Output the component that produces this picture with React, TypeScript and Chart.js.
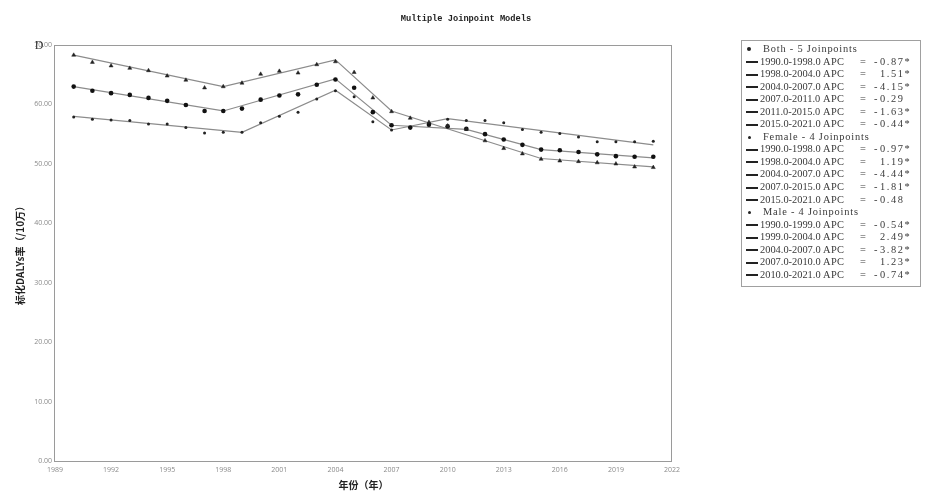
import React, { useEffect, useRef } from "react";
import { Chart, registerables } from "chart.js";

Chart.register(...registerables);

const years = [1990, 1991, 1992, 1993, 1994, 1995, 1996, 1997, 1998, 1999, 2000, 2001, 2002, 2003, 2004, 2005, 2006, 2007, 2008, 2009, 2010, 2011, 2012, 2013, 2014, 2015, 2016, 2017, 2018, 2019, 2020, 2021];

const femaleObs = [68.3, 67.1, 66.5, 66.1, 65.7, 64.8, 64.1, 62.8, 63.0, 63.6, 65.1, 65.6, 65.3, 66.7, 67.2, 65.4, 61.1, 58.8, 57.7, 57.0, 56.4, 55.8, 53.9, 52.6, 51.7, 50.8, 50.5, 50.4, 50.2, 50.0, 49.5, 49.4];
const bothObs = [63.0, 62.3, 61.9, 61.6, 61.1, 60.6, 59.9, 58.9, 58.9, 59.3, 60.8, 61.5, 61.7, 63.3, 64.2, 62.8, 58.7, 56.5, 56.1, 56.6, 56.3, 55.9, 55.0, 54.1, 53.2, 52.4, 52.3, 52.0, 51.6, 51.3, 51.2, 51.2];
const maleObs = [57.9, 57.5, 57.4, 57.3, 56.7, 56.7, 56.1, 55.2, 55.3, 55.3, 56.9, 58.0, 58.7, 60.9, 62.3, 61.3, 57.1, 55.7, 56.1, 56.8, 57.5, 57.3, 57.3, 56.9, 55.8, 55.3, 55.1, 54.5, 53.7, 53.7, 53.7, 53.8];

const bothFitYears = [1990, 1998, 2004, 2007, 2011, 2015, 2021];
const bothFit = [63.0, 58.9, 64.3, 56.5, 55.8, 52.4, 51.0];
const femaleFitYears = [1990, 1998, 2004, 2007, 2015, 2021];
const femaleFit = [68.3, 63.0, 67.5, 58.9, 50.9, 49.5];
const maleFitYears = [1990, 1999, 2004, 2007, 2010, 2021];
const maleFit = [58.0, 55.3, 62.4, 55.7, 57.6, 53.2];

const chartTitle = "Multiple Joinpoint Models";
const yTitle = "标化DALYs率（/10万）";
const xTitle = "年份（年）";

// legend: group headers and their segments
const groupNames = ["Both - 5 Joinpoints", "Female - 4 Joinpoints", "Male - 4 Joinpoints"];
const groupDots = [4, 3, 3];
const bothSegments = ["1990.0-1998.0", "1998.0-2004.0", "2004.0-2007.0", "2007.0-2011.0", "2011.0-2015.0", "2015.0-2021.0"];
const bothApc = ["-0.87*", "1.51*", "-4.15*", "-0.29", "-1.63*", "-0.44*"];
const femaleSegments = ["1990.0-1998.0", "1998.0-2004.0", "2004.0-2007.0", "2007.0-2015.0", "2015.0-2021.0"];
const femaleApc = ["-0.97*", "1.19*", "-4.44*", "-1.81*", "-0.48"];
const maleSegments = ["1990.0-1999.0", "1999.0-2004.0", "2004.0-2007.0", "2007.0-2010.0", "2010.0-2021.0"];
const maleApc = ["-0.54*", "2.49*", "-3.82*", "1.23*", "-0.74*"];

type Row = { head: boolean; text: string; apc?: string; dot?: number };
const legendRows: Row[] = [];
[[bothSegments, bothApc], [femaleSegments, femaleApc], [maleSegments, maleApc]].forEach(([segs, apcs], g) => {
  legendRows.push({ head: true, text: groupNames[g], dot: groupDots[g] });
  (segs as string[]).forEach((s, i) => legendRows.push({ head: false, text: s, apc: (apcs as string[])[i] }));
});

const pts = (xs: number[], ys: number[]) => xs.map((x, i) => ({ x, y: ys[i] }));

const decorPlugin = {
  id: "decor",
  afterDraw(chart: any) {
    const { ctx, chartArea } = chart;
    const { left, right, top, bottom } = chartArea;
    ctx.save();
    ctx.strokeStyle = "#9a9a9a";
    ctx.lineWidth = 1;
    ctx.strokeRect(Math.round(left) - 0.5, Math.round(top) + 0.5, Math.round(right - left), Math.round(bottom - top));
    ctx.fillStyle = "#222";
    ctx.textAlign = "center";
    ctx.textBaseline = "middle";
    ctx.font = "bold 8.7px 'Liberation Mono', monospace";
    ctx.fillText(chartTitle, 466, 19);
    ctx.font = "12px 'Liberation Serif', serif";
    ctx.fillStyle = "#333";
    ctx.fillText("D", 39, 46);
    ctx.fillStyle = "#222";
    ctx.font = "bold 10px 'Noto Sans CJK SC', sans-serif";
    ctx.fillText(xTitle, (left + right) / 2, 485);
    ctx.save();
    ctx.translate(20, (top + bottom) / 2);
    ctx.rotate(-Math.PI / 2);
    ctx.fillText(yTitle, 0, 0);
    ctx.restore();
    ctx.restore();
  },
};

export default function App() {
  const ref = useRef<HTMLCanvasElement | null>(null);
  useEffect(() => {
    if (!ref.current) return;
    const lineStyle = { borderColor: "#8c8c8c", borderWidth: 1.2, pointRadius: 0, showLine: true, fill: false, order: 2 };
    const chart = new Chart(ref.current, {
      type: "scatter",
      data: {
        datasets: [
          { label: "Female fit", data: pts(femaleFitYears, femaleFit), ...lineStyle },
          { label: "Both fit", data: pts(bothFitYears, bothFit), ...lineStyle },
          { label: "Male fit", data: pts(maleFitYears, maleFit), ...lineStyle },
          { label: "Female", data: pts(years, femaleObs), pointStyle: "triangle", pointRadius: 2.3, backgroundColor: "#222", borderColor: "#222", borderWidth: 0.5, showLine: false, order: 1 },
          { label: "Both", data: pts(years, bothObs), pointStyle: "circle", pointRadius: 2.3, backgroundColor: "#111", borderColor: "#111", borderWidth: 0, showLine: false, order: 1 },
          { label: "Male", data: pts(years, maleObs), pointStyle: "circle", pointRadius: 1.5, backgroundColor: "#222", borderColor: "#222", borderWidth: 0, showLine: false, order: 1 },
        ],
      },
      options: {
        responsive: false,
        animation: false,
        devicePixelRatio: 1,
        layout: { padding: { top: 45, right: 253, left: 0, bottom: 0 } },
        plugins: { legend: { display: false }, tooltip: { enabled: false }, title: { display: false } },
        scales: {
          x: {
            type: "linear",
            min: 1989,
            max: 2022,
            grid: { display: false, drawTicks: false },
            border: { display: false },
            ticks: { stepSize: 3, padding: 5, color: "#8a8a8a", font: { family: "'Open Sans', sans-serif", size: 7 }, maxRotation: 0, callback: (v: any) => String(v) },
            afterFit: (s: any) => { s.height = 32; },
          },
          y: {
            min: 0,
            max: 70,
            grid: { display: false, drawTicks: false },
            border: { display: false },
            ticks: { stepSize: 10, padding: 3, color: "#8a8a8a", font: { family: "'Open Sans', sans-serif", size: 7 }, callback: (v: any) => Number(v).toFixed(2) },
            afterFit: (s: any) => { s.width = 55; },
          },
        },
      },
      plugins: [decorPlugin],
    } as any);
    return () => chart.destroy();
  }, []);

  const abs = (left: number, extra: any = {}) => ({ position: "absolute" as const, left, top: 0, whiteSpace: "pre" as const, ...extra });

  return (
    <div style={{ position: "fixed", left: 0, top: 0, width: 925, height: 493, background: "#fff" }}>
      <canvas ref={ref} width={925} height={493} style={{ position: "absolute", left: 0, top: 0 }} />
      <div
        style={{
          position: "absolute",
          left: 741,
          top: 40,
          width: 180,
          height: 247,
          border: "1px solid #a0a0a0",
          paddingTop: 2,
          boxSizing: "border-box",
          fontFamily: "'Liberation Serif', serif",
          fontSize: "10.4px",
          color: "#3a3a3a",
          overflow: "hidden",
        }}
      >
        {legendRows.map((r, i) => (
          <div key={i} style={{ position: "relative", height: 12.56, lineHeight: "12.56px" }}>
            {r.head ? (
              <>
                <span style={{ position: "absolute", left: 7 - (r.dot as number) / 2, top: 6.3 - (r.dot as number) / 2, width: r.dot, height: r.dot, borderRadius: "50%", background: "#222" }} />
                <span style={abs(21, { letterSpacing: "0.8px" })}>{r.text}</span>
              </>
            ) : (
              <>
                <span style={{ position: "absolute", left: 4, top: 5.5, width: 12, height: 2, background: "#222" }} />
                <span style={abs(18)}>{r.text}</span>
                <span style={abs(81, { letterSpacing: "0.4px" })}>APC</span>
                <span style={abs(118)}>=</span>
                {(r.apc as string).startsWith("-") ? (
                  <>
                    <span style={abs(132)}>-</span>
                    <span style={abs(138, { letterSpacing: "1.6px" })}>{(r.apc as string).slice(1)}</span>
                  </>
                ) : (
                  <span style={abs(138, { letterSpacing: "1.6px" })}>{r.apc}</span>
                )}
              </>
            )}
          </div>
        ))}
      </div>
    </div>
  );
}
